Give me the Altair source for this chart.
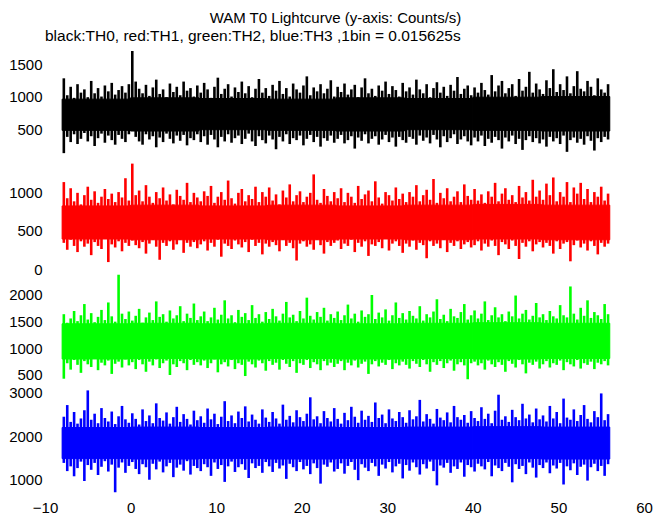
import altair as alt
import pandas as pd

FONT = "Liberation Sans"
FS = 15
TITLE = "WAM T0 Lightcurve (y-axis: Counts/s)"
SUBTITLE = "black:TH0, red:TH1, green:TH2, blue:TH3 ,1bin = 0.015625s"

BIN_START = -8.0
BIN_WIDTH = 0.4
SEG_WIDTH = 8.0

X_DOMAIN = [-10, 60]
X_LABELS = [-10, 0, 10, 20, 30, 40, 50, 60]

# ---- TH0 (black) ----
TH0_HI = [1280, 1020, 1150, 980, 1190, 1060, 1110, 990, 1240, 1050, 1130, 1000, 1170, 1080, 1210, 1030, 1100, 1160, 1060, 1190,
          1750, 1230, 1120, 1050, 1180, 1010, 1140, 1260, 1040, 1110, 990, 1200, 1070, 1150, 1020, 1230, 1090, 1130, 1000, 1170,
          1060, 1210, 1110, 980, 1150, 1290, 1040, 1120, 1190, 1000, 1140, 1070, 1230, 1050, 1160, 990, 1120, 1270, 1060, 1130,
          1010, 1180, 1090, 1240, 1040, 1130, 1000, 1200, 1110, 1060, 1170, 1310, 1020, 1140, 1080, 1190, 1050, 1120, 1250, 1000,
          1150, 1070, 1200, 1030, 1110, 1180, 990, 1140, 1280, 1050, 1120, 1010, 1170, 1090, 1230, 1040, 1160, 1100, 1000, 1210,
          1080, 1140, 1030, 1260, 1110, 1050, 1190, 990, 1130, 1220, 1060, 1150, 1010, 1180, 1090, 1300, 1040, 1120, 1170, 1020,
          1140, 1060, 1210, 1100, 1030, 1330, 1080, 1170, 1240, 1050, 1130, 1190, 1010, 1270, 1090, 1150, 1380, 1060, 1200, 1110,
          1040, 1250, 1130, 1420, 1070, 1190, 1100, 1310, 1050, 1160, 1390, 1120, 1080, 1240, 1150, 1020, 1280, 1110, 1060, 1190]
TH0_LO = [130, 380, 300, 420, 270, 350, 440, 310, 390, 240, 360, 430, 290, 400, 330, 260, 410, 350, 300, 420,
          480, 380, 310, 260, 420, 340, 390, 220, 370, 300, 430, 350, 280, 400, 320, 410, 250, 360, 330, 420,
          300, 390, 260, 410, 340, 220, 380, 310, 420, 290, 360, 400, 270, 350, 430, 310, 240, 390, 330, 280,
          400, 340, 190, 380, 310, 420, 270, 360, 330, 400, 250, 350, 410, 300, 380, 230, 360, 320, 400, 290,
          350, 410, 280, 330, 390, 200, 370, 320, 420, 280, 350, 390, 260, 340, 410, 300, 370, 230, 380, 330,
          290, 380, 350, 260, 400, 320, 370, 280, 410, 340, 220, 390, 300, 360, 420, 270, 340, 390, 310, 250,
          370, 310, 400, 240, 350, 290, 380, 330, 200, 370, 310, 400, 270, 350, 180, 330, 390, 300, 360, 280,
          340, 230, 380, 310, 360, 270, 400, 150, 330, 370, 290, 350, 260, 390, 320, 170, 360, 300, 380, 340]
TH0_CORE_LO = [480, 470, 490, 480, 470, 490, 480, 470]
TH0_CORE_HI = [960, 980, 970, 960, 980, 970, 990, 1000]

# ---- TH1 (red) ----
TH1_HI = [1130, 920, 1050, 880, 990, 840, 960, 1070, 900, 1010, 860, 940, 1040, 910, 980, 870, 1000, 930, 1180, 890,
          1370, 960, 1020, 880, 1090, 940, 860, 1000, 920, 1060, 890, 970, 840, 1030, 950, 900, 1120, 870, 990, 930,
          880, 1010, 950, 1080, 860, 940, 1000, 900, 1150, 920, 850, 990, 1040, 880, 960, 910, 1070, 870, 1000, 940,
          1060, 890, 970, 840, 1020, 930, 1100, 880, 960, 1010, 870, 940, 990, 1230, 900, 860, 1040, 950, 880, 1000,
          920, 1050, 870, 990, 940, 860, 1080, 910, 970, 1020, 880, 1140, 930, 850, 1000, 960, 890, 1060, 910, 980,
          870, 1000, 940, 1090, 880, 960, 1030, 900, 1170, 860, 990, 920, 1050, 880, 940, 1010, 870, 1100, 950, 900,
          1040, 890, 970, 860, 1010, 940, 1120, 880, 980, 1050, 900, 960, 870, 1080, 930, 1000, 890, 1160, 940, 1020,
          900, 1110, 960, 1190, 880, 1000, 940, 1130, 870, 1060, 980, 1120, 910, 1040, 870, 1000, 940, 1070, 890, 980]
TH1_LO = [340, 250, 380, 300, 220, 360, 290, 330, 180, 350, 300, 260, 390, 90, 320, 280, 360, 230, 340, 300,
          370, 310, 270, 350, 200, 330, 380, 290, 120, 340, 300, 360, 250, 320, 380, 210, 340, 290, 350, 270,
          320, 360, 240, 340, 290, 380, 160, 330, 300, 260, 370, 320, 280, 350, 220, 380, 300, 340, 190, 330,
          290, 350, 310, 230, 380, 300, 340, 270, 110, 330, 360, 290, 320, 250, 380, 310, 200, 350, 300, 340,
          370, 260, 330, 300, 380, 220, 340, 290, 360, 170, 320, 300, 350, 270, 390, 240, 330, 360, 300, 210,
          330, 290, 370, 250, 340, 310, 140, 360, 300, 330, 270, 380, 220, 340, 300, 360, 260, 320, 350, 280,
          310, 360, 240, 330, 290, 370, 300, 180, 350, 320, 260, 370, 300, 130, 340, 290, 360, 230, 320, 350,
          280, 340, 300, 200, 360, 260, 330, 350, 100, 310, 370, 280, 330, 240, 360, 300, 190, 340, 290, 330]
TH1_CORE_LO = [390, 380, 390, 380, 390, 380, 390, 380]
TH1_CORE_HI = [820, 830, 820, 830, 820, 830, 840, 830]

# ---- TH2 (green) ----
TH2_HI = [1640, 1480, 1560, 1700, 1510, 1620, 1830, 1540, 1660, 1490, 1590, 1720, 1530, 1860, 1600, 1500, 2380, 1650, 1550, 1690,
          1520, 1610, 1740, 1480, 1580, 1670, 1530, 1880, 1590, 1640, 1500, 1710, 1560, 1620, 1790, 1510, 1650, 1570, 1840, 1530,
          1600, 1690, 1510, 1580, 1760, 1540, 1630, 1900, 1560, 1620, 1490, 1720, 1590, 1660, 1530, 1810, 1570, 1640, 1500, 1680,
          1550, 1740, 1600, 1520, 1650, 1870, 1580, 1630, 1510, 1700, 1560, 1950, 1610, 1540, 1680, 1590, 1760, 1520, 1640, 1570,
          1690, 1530, 1620, 1820, 1560, 1650, 1500, 1710, 1590, 1640, 2000, 1550, 1670, 1580, 1730, 1520, 1620, 1860, 1570, 1660,
          1540, 1700, 1610, 1560, 1790, 1520, 1640, 1580, 1690, 1920, 1550, 1630, 1510, 1740, 1600, 1570, 1680, 1830, 1540, 1620,
          1710, 1560, 1650, 1880, 1530, 1620, 1770, 1580, 1640, 1510, 1690, 1600, 1990, 1560, 1650, 1720, 1540, 1610, 1850, 1580,
          1640, 1530, 1700, 1600, 1560, 1810, 1620, 1580, 2160, 1650, 1540, 1760, 1610, 1900, 1570, 1680, 1620, 1550, 1830, 1640]
TH2_LO = [430, 720, 600, 780, 690, 540, 760, 700, 650, 800, 590, 730, 680, 770, 520, 710, 750, 640, 790, 680,
          740, 610, 780, 700, 560, 750, 680, 790, 630, 720, 770, 500, 700, 650, 760, 720, 590, 780, 690, 740,
          680, 770, 630, 720, 790, 550, 700, 740, 660, 780, 610, 720, 690, 480, 750, 700, 640, 770, 720, 580,
          760, 690, 730, 600, 780, 710, 650, 760, 540, 720, 690, 780, 630, 740, 700, 590, 760, 680, 730, 650,
          710, 760, 590, 730, 680, 770, 640, 710, 750, 520, 700, 760, 660, 730, 690, 780, 610, 720, 680, 750,
          690, 620, 760, 710, 650, 780, 700, 560, 740, 690, 760, 630, 720, 770, 580, 700, 740, 680, 420, 720,
          750, 680, 720, 600, 770, 700, 650, 740, 690, 560, 760, 710, 640, 780, 700, 530, 730, 690, 750, 620,
          700, 760, 640, 720, 690, 770, 590, 740, 700, 660, 780, 620, 720, 690, 750, 610, 730, 700, 760, 680]
TH2_CORE_LO = [800, 810, 800, 810, 800, 810, 800, 810]
TH2_CORE_HI = [1460, 1470, 1460, 1470, 1460, 1470, 1480, 1470]

# ---- TH3 (blue) ----
TH3_HI = [2450, 2720, 2330, 2560, 2290, 2410, 2600, 3060, 2380, 2520, 2300, 2650, 2420, 2340, 2570, 2280, 2460, 2700, 2390, 2310,
          2530, 2400, 2270, 2620, 2350, 2480, 2300, 2760, 2420, 2360, 2550, 2290, 2440, 2680, 2330, 2510, 2400, 2270, 2590, 2370,
          2460, 2310, 2640, 2390, 2520, 2280, 2450, 2810, 2350, 2480, 2300, 2570, 2420, 2690, 2340, 2500, 2380, 2290, 2620, 2430,
          2330, 2560, 2410, 2290, 2730, 2380, 2470, 2320, 2600, 2440, 2350, 2520, 2900, 2390, 2460, 2300, 2580, 2420, 2340, 2650,
          2400, 2290, 2540, 2370, 2680, 2450, 2310, 2590, 2380, 2470, 2330, 2780, 2420, 2500, 2300, 2620, 2410, 2350, 2560, 2440,
          2310, 2600, 2390, 2460, 2840, 2340, 2510, 2400, 2290, 2630, 2430, 2370, 2550, 2320, 2700, 2440, 2380, 2490, 2310, 2580,
          2420, 2350, 2670, 2400, 2520, 2300, 2590, 2960, 2380, 2460, 2330, 2610, 2440, 2370, 2750, 2410, 2500, 2320, 2640, 2390,
          2480, 2340, 2700, 2410, 2560, 2300, 2870, 2430, 2380, 2620, 2350, 2490, 2720, 2400, 2320, 2580, 2440, 2990, 2370, 2510]
TH3_LO = [1380, 1190, 1300, 1070, 1260, 1410, 960, 1330, 1220, 1380, 1100, 1290, 1420, 1180, 1340, 700, 1270, 1390, 1150, 1310,
          1400, 1240, 1120, 1350, 1280, 990, 1360, 1230, 1410, 1160, 1300, 1380, 1050, 1270, 1340, 1200, 1420, 1110, 1310, 1260,
          1190, 1350, 1280, 1080, 1390, 1240, 1330, 940, 1300, 1410, 1170, 1280, 1350, 1220, 1030, 1370, 1260, 1310, 1150, 1400,
          1300, 1170, 1380, 1250, 1320, 1010, 1360, 1280, 1190, 1400, 1230, 1310, 1120, 1370, 1260, 900, 1340, 1290, 1390, 1180,
          1240, 1370, 1130, 1310, 1400, 1220, 980, 1350, 1270, 1190, 1380, 1300, 1080, 1340, 1250, 1400, 1160, 1300, 1360, 1020,
          1330, 1200, 1390, 1280, 1110, 1350, 1250, 1410, 1190, 860, 1320, 1270, 1380, 1150, 1300, 1240, 1390, 1060, 1330, 1280,
          1180, 1360, 1300, 1230, 1400, 1070, 1320, 1260, 1190, 1380, 1290, 930, 1350, 1240, 1310, 1120, 1390, 1270, 1040, 1330,
          1260, 1390, 1140, 1320, 1250, 1380, 880, 1300, 1210, 1370, 1100, 1290, 1340, 970, 1280, 1360, 1190, 1310, 1080, 1350]
TH3_CORE_LO = [1480, 1470, 1480, 1470, 1480, 1470, 1480, 1470]
TH3_CORE_HI = [2200, 2210, 2200, 2210, 2200, 2210, 2220, 2210]

PANELS = [
    # (lo, hi, core lo, core hi, color, y-domain, y tick labels, panel height)
    (TH0_LO, TH0_HI, TH0_CORE_LO, TH0_CORE_HI, "#000000", [40, 1700], [500, 1000, 1500], 108),
    (TH1_LO, TH1_HI, TH1_CORE_LO, TH1_CORE_HI, "#ff0000", [-26, 1430], [0, 500, 1000], 112),
    (TH2_LO, TH2_HI, TH2_CORE_LO, TH2_CORE_HI, "#00ff00", [312, 2450], [500, 1000, 1500, 2000], 114),
    (TH3_LO, TH3_HI, TH3_CORE_LO, TH3_CORE_HI, "#0000ff", [590, 3185], [1000, 2000, 3000], 112),
]

PLOT_W = 599


def bins(lo, hi):
    n = min(len(lo), len(hi))
    t = [BIN_START + BIN_WIDTH * (i + 0.5) for i in range(n)]
    return pd.DataFrame({"t": t, "lo": lo[:n], "hi": hi[:n]})


def segments(lo, hi):
    n = min(len(lo), len(hi))
    t = [BIN_START + SEG_WIDTH * i for i in range(n)]
    return pd.DataFrame({"t": t, "t2": [v + SEG_WIDTH for v in t],
                         "lo": lo[:n], "hi": hi[:n]})


charts = []
for idx, (lo, hi, clo, chi, color, ydom, yticks, h) in enumerate(PANELS):
    last = idx == len(PANELS) - 1
    if last:
        xaxis = alt.Axis(values=X_LABELS, domain=False, ticks=False, grid=False,
                         title=None, labelFontSize=FS, labelFont=FONT,
                         labelColor="black", labelPadding=3, labelFlush=False,
                         format="d")
    else:
        xaxis = None
    xs = alt.Scale(domain=X_DOMAIN, nice=False, zero=False)
    ys = alt.Scale(domain=ydom, nice=False, zero=False)
    yaxis = alt.Axis(values=yticks, domain=False, ticks=False, grid=False,
                     title=None, labelFontSize=FS, labelFont=FONT,
                     labelColor="black", labelPadding=3, format="d")
    core = alt.Chart(segments(clo, chi)).mark_rect(
        color=color, stroke=color, strokeWidth=1, clip=True
    ).encode(
        x=alt.X("t:Q", scale=xs, axis=xaxis),
        x2="t2:Q",
        y=alt.Y("lo:Q", scale=ys, axis=yaxis),
        y2="hi:Q",
    )
    spikes = alt.Chart(bins(lo, hi)).mark_rule(
        color=color, strokeWidth=2.6, clip=True
    ).encode(
        x=alt.X("t:Q", scale=xs, axis=xaxis),
        y=alt.Y("lo:Q", scale=ys, axis=yaxis),
        y2="hi:Q",
    )
    ch = alt.layer(core, spikes).properties(width=PLOT_W, height=h)
    if idx == 0:
        ch = ch.properties(title=alt.TitleParams(
            SUBTITLE, anchor="start", frame="group", fontSize=15.5, font=FONT,
            fontWeight="normal", color="black", offset=7))
    charts.append(ch)

chart = alt.vconcat(*charts, spacing=0, bounds="flush").properties(
    title=alt.TitleParams(TITLE, anchor="middle", fontSize=FS, font=FONT,
                          fontWeight="normal", color="black", offset=3, dx=5),
    padding={"top": 2, "left": 0, "right": 0, "bottom": 0},
).configure_view(strokeWidth=0).configure_concat(spacing=0)

chart.save("out.html", embed_options={"renderer": "svg", "actions": False})
